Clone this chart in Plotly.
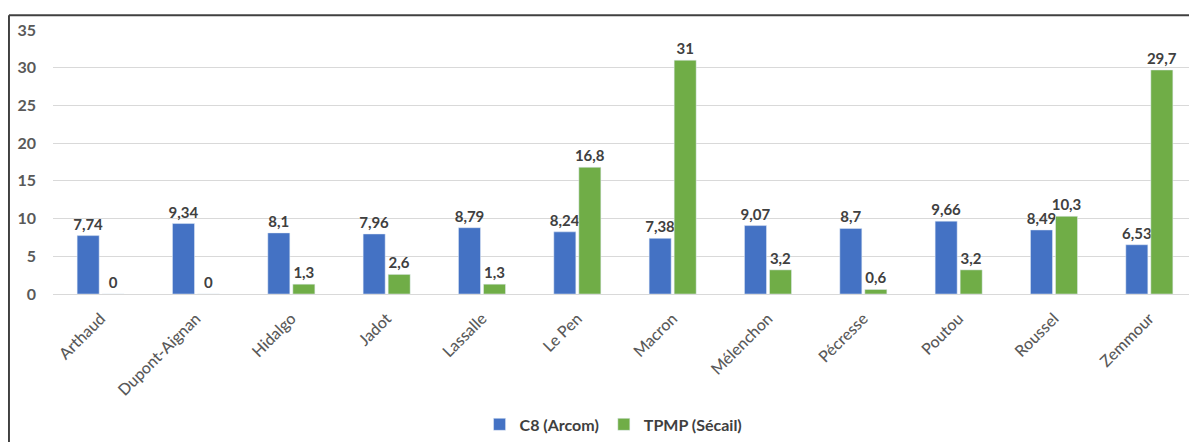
import plotly.graph_objects as go

candidats = [
    "Arthaud", "Dupont-Aignan", "Hidalgo", "Jadot", "Lassalle", "Le Pen",
    "Macron", "Mélenchon", "Pécresse", "Poutou", "Roussel", "Zemmour",
]
c8_arcom = [7.74, 9.34, 8.1, 7.96, 8.79, 8.24, 7.38, 9.07, 8.7, 9.66, 8.49, 6.53]
tpmp_secail = [0, 0, 1.3, 2.6, 1.3, 16.8, 31, 3.2, 0.6, 3.2, 10.3, 29.7]
y_ticks = [0, 5, 10, 15, 20, 25, 30, 35]


def fr(v):
    return f"{v:g}".replace(".", ",")


font_family = "Lato, 'Open Sans', sans-serif"
label_font = dict(family=font_family, size=15, color="#404040", weight="bold")

fig = go.Figure()
fig.add_trace(
    go.Bar(
        name="C8 (Arcom)",
        x=candidats,
        y=c8_arcom,
        text=[fr(v) for v in c8_arcom],
        textposition="outside",
        constraintext="none",
        textfont=label_font,
        marker_color="#4472C4",
        cliponaxis=False,
    )
)
fig.add_trace(
    go.Bar(
        name="TPMP (Sécail)",
        x=candidats,
        y=tpmp_secail,
        text=[fr(v) for v in tpmp_secail],
        textposition="outside",
        constraintext="none",
        textfont=label_font,
        marker_color="#70AD47",
        cliponaxis=False,
    )
)

# the page body adds an 8px offset, margins compensate for it
fig.update_layout(
    width=1197,
    height=442,
    margin=dict(l=45, r=8, t=22, b=154),
    paper_bgcolor="white",
    plot_bgcolor="white",
    barmode="group",
    bargap=0.475,
    bargroupgap=0.12,
    font=dict(family=font_family, size=14, color="#595959"),
    xaxis=dict(
        tickangle=-45,
        tickfont=dict(size=16, color="#595959", weight=500),
        showgrid=False,
        showline=True,
        linecolor="#D9D9D9",
        linewidth=1,
        ticklabelstandoff=8,
        automargin=False,
    ),
    yaxis=dict(
        range=[0, 35],
        tickvals=y_ticks,
        tickfont=dict(size=16, color="#595959", weight="bold"),
        showgrid=True,
        gridcolor="#D9D9D9",
        zeroline=False,
        ticklabelstandoff=16,
        automargin=False,
    ),
    legend=dict(
        orientation="h",
        x=0.49,
        xanchor="center",
        y=-0.494,
        yanchor="middle",
        font=dict(size=16, color="#404040", weight="bold"),
        itemwidth=30,
    ),
    shapes=[
        dict(type="line", xref="paper", yref="paper", x0=-0.0385, x1=-0.0385,
             y0=1.056, y1=-0.7, line=dict(color="#404040", width=2)),
        dict(type="line", xref="paper", yref="paper", x0=-0.0385, x1=1.01,
             y0=1.056, y1=1.056, line=dict(color="#404040", width=2)),
    ],
)

fig.write_html("out.html")
